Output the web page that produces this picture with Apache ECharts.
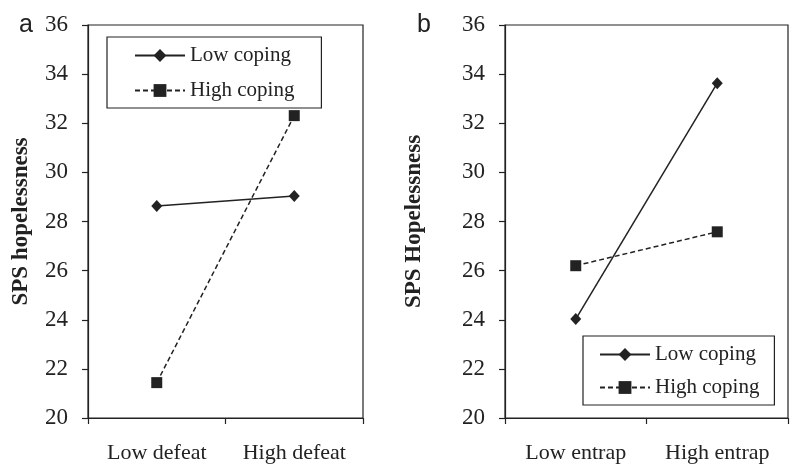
<!DOCTYPE html>
<html>
<head>
<meta charset="utf-8">
<script src="https://cdn.jsdelivr.net/npm/echarts@6/dist/echarts.min.js"></script>
<style>html,body{margin:0;padding:0;background:#fff;}#c{width:800px;height:473px;}</style>
</head>
<body>
<div id="c"></div>
<script>
const categoriesA = ['Low defeat', 'High defeat'];
const categoriesB = ['Low entrap', 'High entrap'];
const seriesNames = ['Low coping', 'High coping'];
const lowCopingA = [28.63, 29.04];
const highCopingA = [21.44, 32.31];
const lowCopingB = [24.03, 33.63];
const highCopingB = [26.2, 27.58];
const yMin = 20, yMax = 36, yStep = 2;
const yTitleA = 'SPS hopelessness';
const yTitleB = 'SPS Hopelessness';
const panelLabels = ['a', 'b'];

const INK = '#222';
const SERIF = '"Liberation Serif", "Times New Roman", serif';

function xAxis(idx, cats) {
  return {
    type: 'category', gridIndex: idx, data: cats, boundaryGap: true,
    axisLine: { lineStyle: { color: INK, width: 1.2 } },
    axisTick: { show: true, length: 6, alignWithLabel: false, lineStyle: { color: INK, width: 1.2 } },
    axisLabel: { color: INK, fontFamily: SERIF, fontSize: 22, margin: 24 },
    splitLine: { show: false }
  };
}
function yAxis(idx, name, gap) {
  return {
    type: 'value', gridIndex: idx, min: yMin, max: yMax, interval: yStep,
    name: name, nameLocation: 'middle', nameGap: gap, nameRotate: 90,
    nameTextStyle: { color: INK, fontFamily: SERIF, fontSize: 23, fontWeight: 'bold' },
    axisLine: { show: true, lineStyle: { color: INK, width: 1.2 } },
    axisTick: { show: true, length: 6, lineStyle: { color: INK, width: 1.2 } },
    axisLabel: { color: INK, fontFamily: SERIF, fontSize: 23, margin: 20 },
    splitLine: { show: false }
  };
}
function lineSeries(name, idx, data, dashed) {
  return {
    name: name, type: 'line', xAxisIndex: idx, yAxisIndex: idx, data: data,
    symbol: dashed ? 'rect' : 'diamond',
    symbolSize: dashed ? 11 : [11, 12],
    color: INK,
    itemStyle: { color: INK },
    lineStyle: { color: INK, width: 1.5, type: dashed ? [5, 3] : 'solid' },
    animation: false, silent: true
  };
}
function legend(opts) {
  return Object.assign({
    data: seriesNames, orient: 'vertical',
    borderColor: INK, borderWidth: 1.2, borderRadius: 0,
    itemWidth: 50, itemHeight: 16,
    textStyle: { color: INK, fontFamily: SERIF, fontSize: 21 },
    selectedMode: false
  }, opts);
}

const chart = echarts.init(document.getElementById('c'), null, { renderer: 'canvas' });
chart.setOption({
  animation: false,
  title: [
    { text: panelLabels[0], left: 14, top: 8, textStyle: { fontFamily: '"Liberation Sans", Arial, sans-serif', fontSize: 25, fontWeight: 'normal', color: INK } },
    { text: panelLabels[1], left: 412, top: 8, textStyle: { fontFamily: '"Liberation Sans", Arial, sans-serif', fontSize: 25, fontWeight: 'normal', color: INK } }
  ],
  grid: [
    { left: 88, right: 437, top: 25, bottom: 55, show: true, borderColor: INK, borderWidth: 1.2, containLabel: false },
    { left: 505, right: 12, top: 25, bottom: 55, show: true, borderColor: INK, borderWidth: 1.2, containLabel: false }
  ],
  xAxis: [xAxis(0, categoriesA), xAxis(1, categoriesB)],
  yAxis: [yAxis(0, yTitleA, 55), yAxis(1, yTitleB, 79)],
  legend: [
    legend({ left: 107, top: 37, padding: [8, 27, 7, 27], itemGap: 14 }),
    legend({ left: 583, top: 336, padding: [8, 15, 7, 16], itemGap: 12 })
  ],
  series: [
    lineSeries(seriesNames[0], 0, lowCopingA, false),
    lineSeries(seriesNames[1], 0, highCopingA, true),
    lineSeries(seriesNames[0], 1, lowCopingB, false),
    lineSeries(seriesNames[1], 1, highCopingB, true)
  ]
});
</script>
</body>
</html>
